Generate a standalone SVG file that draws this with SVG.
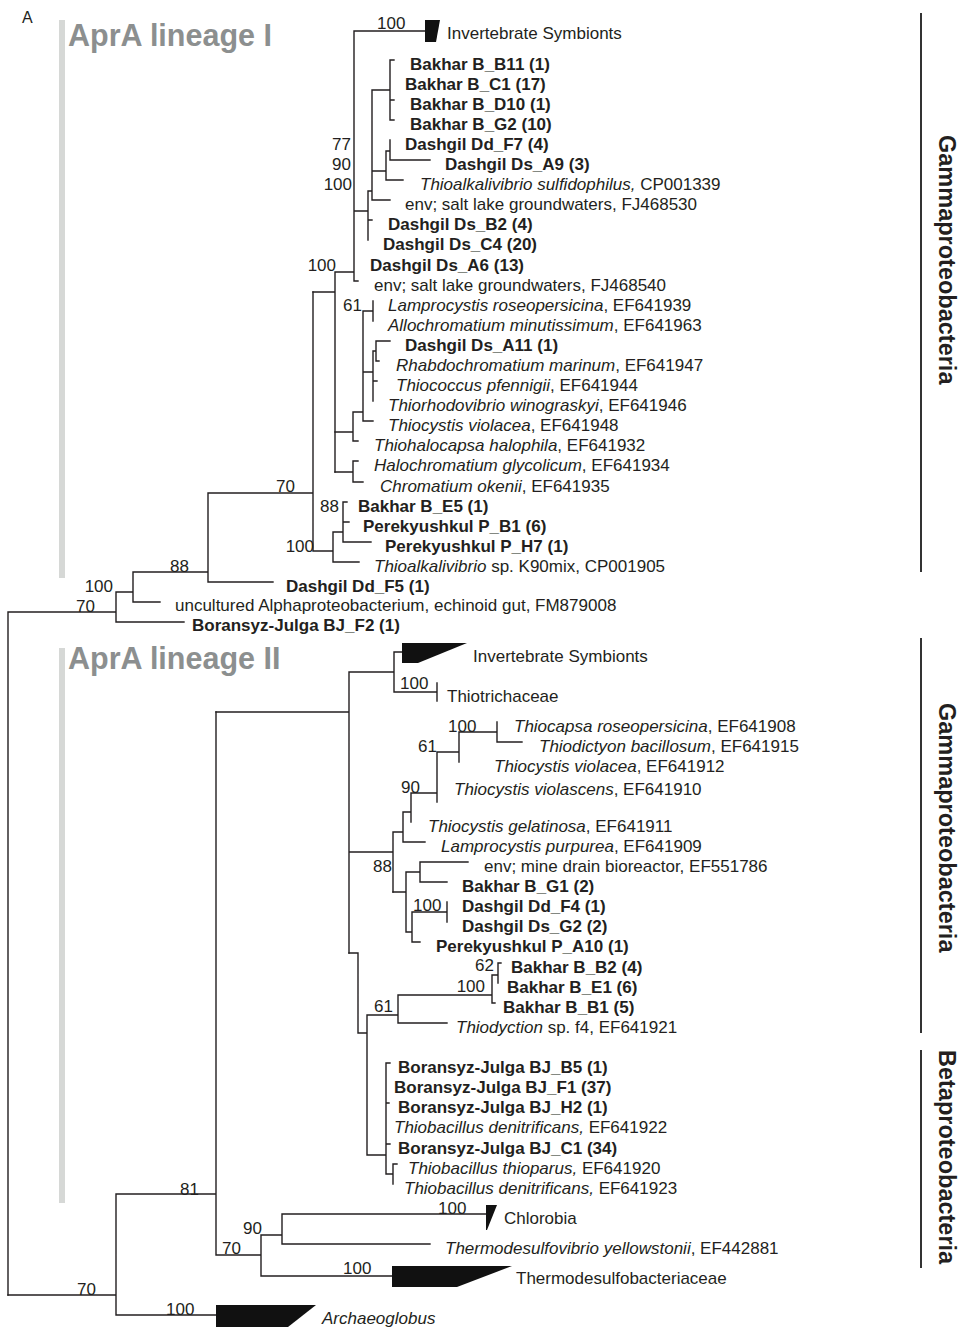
<svg xmlns="http://www.w3.org/2000/svg" width="964" height="1331" viewBox="0 0 964 1331">
<style>
text{font-family:"Liberation Sans",Arial,sans-serif;font-size:17px;fill:#231f20}
.b{font-weight:bold}
.i{font-style:italic}
.br path{fill:none;stroke:#231f20;stroke-width:1.4;stroke-linecap:square}
.clade{fill:#111;stroke:none}
.lin{font-size:30.5px;font-weight:bold;fill:#8c8f8f}
.bar{fill:#d6d8d6}
.grp{font-size:23.5px;font-weight:bold;fill:#231f20}
.gl{stroke:#333;stroke-width:2}
</style>
<rect width="964" height="1331" fill="#fff"/>
<text x="22" y="23" style="font-size:16px">A</text>
<g id="lineage-I-label"><rect class="bar" x="59" y="20" width="6" height="558"/><text class="lin" x="68" y="46">AprA lineage I</text></g>
<g id="lineage-II-label"><rect class="bar" x="59" y="648" width="6" height="555"/><text class="lin" x="68" y="669">AprA lineage II</text></g>
<g id="group-labels">
<line class="gl" x1="921" y1="13" x2="921" y2="572"/>
<text class="grp" transform="translate(939,135) rotate(90)">Gammaproteobacteria</text>
<line class="gl" x1="921" y1="638" x2="921" y2="1033"/>
<text class="grp" transform="translate(939,703) rotate(90)">Gammaproteobacteria</text>
<line class="gl" x1="921" y1="1050" x2="921" y2="1268"/>
<text class="grp" transform="translate(939,1050) rotate(90)">Betaproteobacteria</text>
</g>
<g id="connectors" class="br">
<path d="M8 612V1295M8 612H116M116 592V622M116 622H184M116 592H133M133 572V602M133 602H160M133 572H208M208 493V582M208 582H273M208 493H313M313 292V551M313 551H333M333 532V562M333 562H359M333 532H343M343 502V542M343 502H347M343 522H349M343 542H371"/>
<path d="M313 292H335M335 272V472M335 272H354M354 31V281M354 31H425M354 281H358M354 211H368M368 191V240M368 220H372M368 191H372M372 90V200M372 200H390M372 90H390M390 60V120M390 60H394M390 100H394M390 120H394M372 171H386M386 151V180M386 180H403M386 151H390M390 140V160M390 160H430"/>
<path d="M335 432H353M353 412V441M353 441H358M353 412H363M363 311V421M363 421H373M363 311H373M373 301V321M363 372H373M373 351V401M373 381H377M373 351H376M376 341V361M376 341H390M376 361H379M335 472H353M353 461V482M353 461H358M353 482H363"/>
<path d="M8 1295H116M116 1194V1315M116 1315H216M116 1194H216M216 712V1255M216 1255H261M261 1235V1276M261 1276H392M261 1235H282M282 1214V1244M282 1214H487M282 1244H430"/>
<path d="M216 712H349M349 672V953M349 672H394M394 652V692M394 652H402M394 692H437M437 683V701M349 852H393M393 832V892M393 832H403M403 812V842M403 842H425M403 812H411M411 793V822M411 793H437M437 752V802M437 752H459M459 732V762M459 732H497M497 722V742M497 742H522"/>
<path d="M393 892H406M406 872V932M406 872H420M420 862V882M420 862H468M420 882H447M406 932H412M412 912V942M412 942H420M412 912H447M447 902V922"/>
<path d="M349 953H358M358 953V1033M358 1033H367M367 1015V1155M367 1015H398M398 995V1023M398 1023H447M398 995H492M492 975V1003M492 1003H495M492 975H498M498 963V983M498 963H501M367 1155H386M386 1063V1174M386 1063H390M386 1103H389M386 1144H390M386 1174H393M393 1164V1184M393 1164H397"/>
</g>
<g id="collapsed-clades">
<polygon class="clade" points="425,20 440,20 436,42 425,42"/>
<polygon class="clade" points="402,643 467,643 418,663 402,663"/>
<polygon class="clade" points="486,1205 497,1205 487,1230 486,1230"/>
<polygon class="clade" points="392,1266 512,1266 457,1287 392,1287"/>
<polygon class="clade" points="216,1305 316,1305 288,1327 216,1327"/>
</g>
<g id="bootstrap">
<text x="377" y="29">100</text>
<text x="351" y="150" text-anchor="end">77</text>
<text x="351" y="170" text-anchor="end">90</text>
<text x="352" y="190" text-anchor="end">100</text>
<text x="336" y="271" text-anchor="end">100</text>
<text x="362" y="311" text-anchor="end">61</text>
<text x="276" y="492">70</text>
<text x="320" y="512">88</text>
<text x="314" y="552" text-anchor="end">100</text>
<text x="170" y="572">88</text>
<text x="113" y="592" text-anchor="end">100</text>
<text x="76" y="612">70</text>
<text x="400" y="689">100</text>
<text x="448" y="732">100</text>
<text x="437" y="752" text-anchor="end">61</text>
<text x="401" y="793">90</text>
<text x="392" y="872" text-anchor="end">88</text>
<text x="413" y="911">100</text>
<text x="494" y="971" text-anchor="end">62</text>
<text x="485" y="992" text-anchor="end">100</text>
<text x="393" y="1012" text-anchor="end">61</text>
<text x="180" y="1195">81</text>
<text x="438" y="1214">100</text>
<text x="243" y="1234">90</text>
<text x="222" y="1254">70</text>
<text x="343" y="1274">100</text>
<text x="77" y="1295">70</text>
<text x="166" y="1315">100</text>
</g>
<g id="leaves-I">
<g id="n1"><text x="447" y="39">Invertebrate Symbionts</text></g>
<g id="n2"><text class="b" x="410" y="70">Bakhar B_B11 (1)</text></g>
<g id="n3"><text class="b" x="405" y="90">Bakhar B_C1 (17)</text></g>
<g id="n4"><text class="b" x="410" y="110">Bakhar B_D10 (1)</text></g>
<g id="n5"><text class="b" x="410" y="130">Bakhar B_G2 (10)</text></g>
<g id="n6"><text class="b" x="405" y="150">Dashgil Dd_F7 (4)</text></g>
<g id="n7"><text class="b" x="445" y="170">Dashgil Ds_A9 (3)</text></g>
<g id="n8"><text x="420" y="190"><tspan class="i">Thioalkalivibrio sulfidophilus,</tspan> CP001339</text></g>
<g id="n9"><text x="405" y="210">env; salt lake groundwaters, FJ468530</text></g>
<g id="n10"><text class="b" x="388" y="230">Dashgil Ds_B2 (4)</text></g>
<g id="n11"><text class="b" x="383" y="250">Dashgil Ds_C4 (20)</text></g>
<g id="n12"><text class="b" x="370" y="271">Dashgil Ds_A6 (13)</text></g>
<g id="n13"><text x="374" y="291">env; salt lake groundwaters, FJ468540</text></g>
<g id="n14"><text x="388" y="311"><tspan class="i">Lamprocystis roseopersicina</tspan>, EF641939</text></g>
<g id="n15"><text x="388" y="331"><tspan class="i">Allochromatium minutissimum</tspan>, EF641963</text></g>
<g id="n16"><text class="b" x="405" y="351">Dashgil Ds_A11 (1)</text></g>
<g id="n17"><text x="396" y="371"><tspan class="i">Rhabdochromatium marinum</tspan>, EF641947</text></g>
<g id="n18"><text x="396" y="391"><tspan class="i">Thiococcus pfennigii</tspan>, EF641944</text></g>
<g id="n19"><text x="388" y="411"><tspan class="i">Thiorhodovibrio winograskyi</tspan>, EF641946</text></g>
<g id="n20"><text x="388" y="431"><tspan class="i">Thiocystis violacea</tspan>, EF641948</text></g>
<g id="n21"><text x="374" y="451"><tspan class="i">Thiohalocapsa halophila</tspan>, EF641932</text></g>
<g id="n22"><text x="374" y="471"><tspan class="i">Halochromatium glycolicum</tspan>, EF641934</text></g>
<g id="n23"><text x="380" y="492"><tspan class="i">Chromatium okenii</tspan>, EF641935</text></g>
<g id="n24"><text class="b" x="358" y="512">Bakhar B_E5 (1)</text></g>
<g id="n25"><text class="b" x="363" y="532">Perekyushkul P_B1 (6)</text></g>
<g id="n26"><text class="b" x="385" y="552">Perekyushkul P_H7 (1)</text></g>
<g id="n27"><text x="374" y="572"><tspan class="i">Thioalkalivibrio</tspan> sp. K90mix, CP001905</text></g>
<g id="n28"><text class="b" x="286" y="592">Dashgil Dd_F5 (1)</text></g>
<g id="n29"><text x="175" y="611">uncultured Alphaproteobacterium, echinoid gut, FM879008</text></g>
<g id="n30"><text class="b" x="192" y="631">Boransyz-Julga BJ_F2 (1)</text></g>
</g>
<g id="leaves-II">
<g id="n31"><text x="473" y="662">Invertebrate Symbionts</text></g>
<g id="n32"><text x="447" y="702">Thiotrichaceae</text></g>
<g id="n33"><text x="514" y="732"><tspan class="i">Thiocapsa roseopersicina</tspan>, EF641908</text></g>
<g id="n34"><text x="539" y="752"><tspan class="i">Thiodictyon bacillosum</tspan>, EF641915</text></g>
<g id="n35"><text x="494" y="772"><tspan class="i">Thiocystis violacea</tspan>, EF641912</text></g>
<g id="n36"><text x="454" y="795"><tspan class="i">Thiocystis violascens</tspan>, EF641910</text></g>
<g id="n37"><text x="428" y="832"><tspan class="i">Thiocystis gelatinosa</tspan>, EF641911</text></g>
<g id="n38"><text x="441" y="852"><tspan class="i">Lamprocystis purpurea</tspan>, EF641909</text></g>
<g id="n39"><text x="484" y="872">env; mine drain bioreactor, EF551786</text></g>
<g id="n40"><text class="b" x="462" y="892">Bakhar B_G1 (2)</text></g>
<g id="n41"><text class="b" x="462" y="912">Dashgil Dd_F4 (1)</text></g>
<g id="n42"><text class="b" x="462" y="932">Dashgil Ds_G2 (2)</text></g>
<g id="n43"><text class="b" x="436" y="952">Perekyushkul P_A10 (1)</text></g>
<g id="n44"><text class="b" x="511" y="973">Bakhar B_B2 (4)</text></g>
<g id="n45"><text class="b" x="507" y="993">Bakhar B_E1 (6)</text></g>
<g id="n46"><text class="b" x="503" y="1013">Bakhar B_B1 (5)</text></g>
<g id="n47"><text x="456" y="1033"><tspan class="i">Thiodyction</tspan> sp. f4, EF641921</text></g>
<g id="n48"><text class="b" x="398" y="1073">Boransyz-Julga BJ_B5 (1)</text></g>
<g id="n49"><text class="b" x="394" y="1093">Boransyz-Julga BJ_F1 (37)</text></g>
<g id="n50"><text class="b" x="398" y="1113">Boransyz-Julga BJ_H2 (1)</text></g>
<g id="n51"><text x="394" y="1133"><tspan class="i">Thiobacillus denitrificans,</tspan> EF641922</text></g>
<g id="n52"><text class="b" x="398" y="1154">Boransyz-Julga BJ_C1 (34)</text></g>
<g id="n53"><text x="408" y="1174"><tspan class="i">Thiobacillus thioparus,</tspan> EF641920</text></g>
<g id="n54"><text x="404" y="1194"><tspan class="i">Thiobacillus denitrificans,</tspan> EF641923</text></g>
<g id="n55"><text x="504" y="1224">Chlorobia</text></g>
<g id="n56"><text x="445" y="1254"><tspan class="i">Thermodesulfovibrio yellowstonii</tspan>, EF442881</text></g>
<g id="n57"><text x="516" y="1284">Thermodesulfobacteriaceae</text></g>
<g id="n58"><text class="i" x="322" y="1324">Archaeoglobus</text></g>
</g>
</svg>
